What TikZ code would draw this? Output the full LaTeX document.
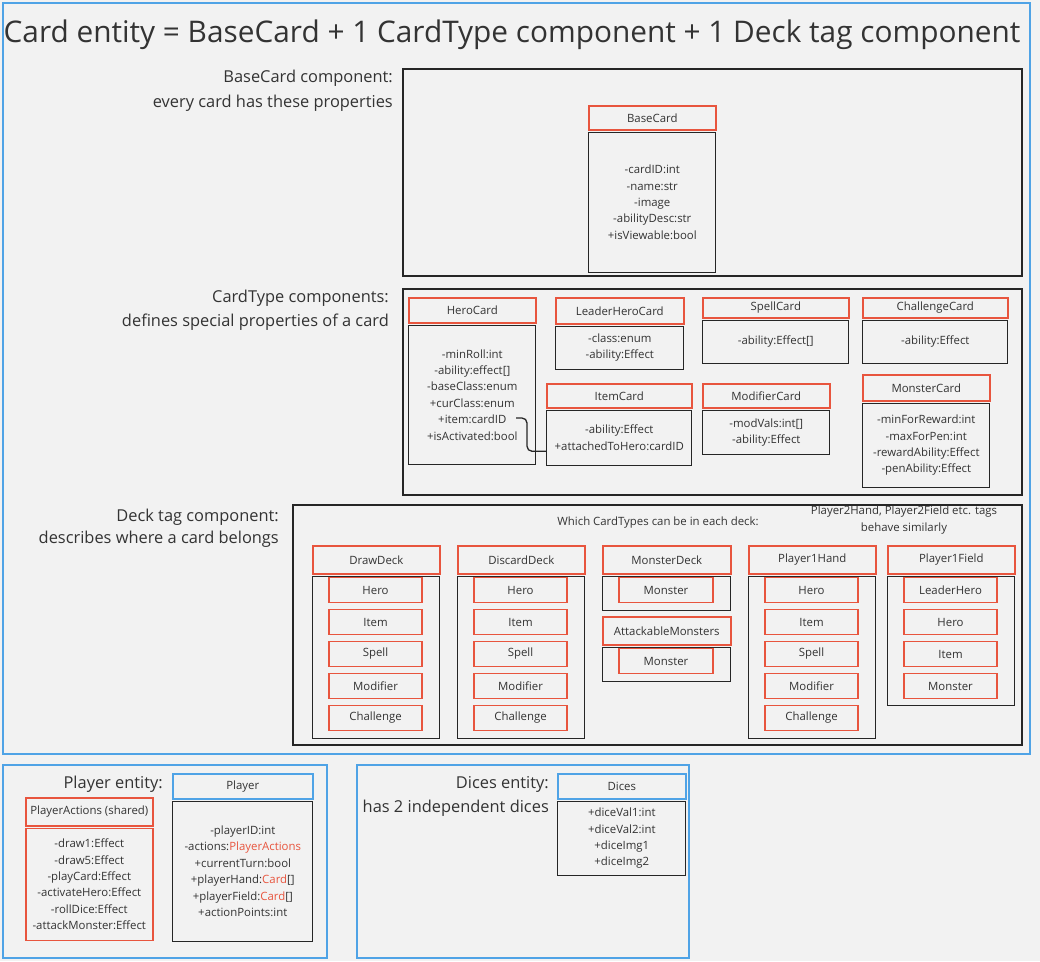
\documentclass[tikz,border=0pt]{standalone}
\usepackage{fontspec}
\setmainfont{Open Sans}
\usetikzlibrary{positioning}
\definecolor{cardred}{HTML}{E8553E}
\definecolor{entblue}{HTML}{4FA3E6}
\definecolor{bggray}{HTML}{F2F2F2}
\definecolor{txt}{HTML}{333333}

\tikzset{
  box/.style 2 args={minimum width=#1pt, minimum height=#2pt, inner sep=0pt},
  hdr/.style={draw=cardred, line width=1.6pt, text=txt, font=\fontsize{11.4}{12}\selectfont},
  bluehdr/.style={hdr, draw=entblue},
  bdy/.style={draw=black!85, line width=1.3pt, align=center, text=txt, font=\fontsize{11.4}{16.4}\selectfont},
  slot/.style={draw=cardred, line width=1.6pt, box={93}{25}, text=txt, font=\fontsize{11.4}{12}\selectfont},
  ent/.style={draw=entblue, line width=1.3pt},
  sect/.style={draw=black!85, line width=1.3pt},
  lbl/.style={anchor=east, align=right, inner sep=0pt, text=txt},
  note/.style={align=center, inner sep=0pt, text=txt, font=\fontsize{11.4}{17}\selectfont},
}

\begin{document}
\begin{tikzpicture}[x=1pt, y=-1pt]
  \fill[bggray] (0,0) rectangle (1040,961);
  \useasboundingbox (0,0) rectangle (1040,961);

  % card entity
  \draw[ent] (3,3) rectangle (1030,754);
  \node[text=txt, inner sep=0pt, font=\fontsize{29.8}{32}\selectfont] (title) at (512,35)
    {Card entity = BaseCard + 1 CardType component + 1 Deck tag component};

  \draw[sect] (403,69) rectangle (1022,276);
  \node[lbl, font=\fontsize{16.4}{25}\selectfont] (baselbl) at (393,91)
    {BaseCard component:\\every card has these properties};
  \node[hdr, box={127}{24}, anchor=north west] (basehdr) at (588,105) {BaseCard};
  \node[bdy, box={127}{140}, below=1pt of basehdr] (basebody)
    {-cardID:int\\-name:str\\-image\\-abilityDesc:str\\+isViewable:bool};

  \draw[sect] (403,289) rectangle (1022,495);
  \node[lbl, font=\fontsize{16.4}{24}\selectfont] (typelbl) at (389,310)
    {CardType components:\\defines special properties of a card};
  \node[hdr, box={127}{25}, anchor=north west] (herohdr) at (408,297) {HeroCard};
  \node[bdy, box={127}{139}, below=1pt of herohdr] (herobody)
    {-minRoll:int\\-ability:effect[]\\-baseClass:enum\\+curClass:enum\\+item:cardID\\+isActivated:bool};
  \node[hdr, box={128}{26}, anchor=north west] (leaderhdr) at (555,297) {LeaderHeroCard};
  \node[bdy, box={128}{43}, below=1pt of leaderhdr] (leaderbody)
    {-class:enum\\-ability:Effect};
  \node[hdr, box={146}{20}, anchor=north west] (spellhdr) at (702,297) {SpellCard};
  \node[bdy, box={146}{43}, below=1pt of spellhdr] (spellbody) {-ability:Effect[]};
  \node[hdr, box={145}{20}, anchor=north west] (chalhdr) at (862,297) {ChallengeCard};
  \node[bdy, box={145}{43}, below=1pt of chalhdr] (chalbody) {-ability:Effect};
  \node[hdr, box={145}{24}, anchor=north west] (itemhdr) at (546,383) {ItemCard};
  \node[bdy, box={145}{55}, below=1pt of itemhdr] (itembody)
    {-ability:Effect\\+attachedToHero:cardID};
  \node[hdr, box={127}{24}, anchor=north west] (modhdr) at (702,383) {ModifierCard};
  \node[bdy, box={127}{44}, below=1pt of modhdr] (modbody)
    {-modVals:int[]\\-ability:Effect};
  \node[hdr, box={127}{26}, anchor=north west] (monhdr) at (862,374) {MonsterCard};
  \node[bdy, box={127}{84}, below=1pt of monhdr] (monbody)
    {-minForReward:int\\-maxForPen:int\\-rewardAbility:Effect\\-penAbility:Effect};
  \coordinate (itemref) at (516,418);
  \draw[black!85, line width=1.3pt, rounded corners=5pt] (itemref) -- ++(11,0)
    |- ([yshift=-13.5pt]itembody.west);

  \draw[sect] (293,505) rectangle (1022,745);
  \node[lbl, font=\fontsize{16.4}{22}\selectfont] (decklbl) at (279,528)
    {Deck tag component:\\describes where a card belongs};
  \node[note] (which) at (658,523) {Which CardTypes can be in each deck:};
  \node[note] (others) at (904,520) {Player2Hand, Player2Field etc. tags\\behave similarly};

  \node[hdr, box={127}{28}, anchor=north west] (drawhdr) at (312,545) {DrawDeck};
  \node[bdy, box={127}{162}, below=1pt of drawhdr] (drawbody) {};
  \foreach \s [count=\i] in {Hero,Item,Spell,Modifier,Challenge}
    \node[slot] (draw\i) at (375.5,558+32*\i) {\s};
  \node[hdr, box={127}{28}, anchor=north west] (discardhdr) at (457,545) {DiscardDeck};
  \node[bdy, box={127}{162}, below=1pt of discardhdr] (discardbody) {};
  \foreach \s [count=\i] in {Hero,Item,Spell,Modifier,Challenge}
    \node[slot] (discard\i) at (520.5,558+32*\i) {\s};
  \node[hdr, box={128}{28}, anchor=north west] (mdeckhdr) at (602,545) {MonsterDeck};
  \node[bdy, box={128}{34}, below=1pt of mdeckhdr] (mdeckbody) {};
  \node[slot, box={94}{25}] (mdeck1) at (666,590) {Monster};
  \node[hdr, box={128}{28}, anchor=north west] (attackhdr) at (602,616) {AttackableMonsters};
  \node[bdy, box={128}{34}, below=1pt of attackhdr] (attackbody) {};
  \node[slot, box={94}{25}] (attack1) at (666,661) {Monster};
  \node[hdr, box={127}{28}, anchor=north west] (handhdr) at (748,545) {Player1Hand};
  \node[bdy, box={127}{162}, below=1pt of handhdr] (handbody) {};
  \foreach \s [count=\i] in {Hero,Item,Spell,Modifier,Challenge}
    \node[slot] (hand\i) at (811.5,558+32*\i) {\s};
  \node[hdr, box={127}{28}, anchor=north west] (fieldhdr) at (887,545) {Player1Field};
  \node[bdy, box={127}{129}, below=1pt of fieldhdr] (fieldbody) {};
  \foreach \s [count=\i] in {LeaderHero,Hero,Item,Monster}
    \node[slot] (field\i) at (950.5,558+32*\i) {\s};

  % player entity
  \draw[ent] (3,765) rectangle (327,958);
  \node[lbl, font=\fontsize{16.4}{24}\selectfont] (playerlbl) at (163,784) {Player entity:};
  \node[hdr, box={127}{28}, anchor=north west] (actionshdr) at (25,797) {PlayerActions (shared)};
  \node[bdy, draw=cardred, line width=1.6pt, box={127}{112}, below=1pt of actionshdr] (actionsbody)
    {-draw1:Effect\\-draw5:Effect\\-playCard:Effect\\-activateHero:Effect\\-rollDice:Effect\\-attackMonster:Effect};
  \node[bluehdr, box={140}{25}, anchor=north west] (playerhdr) at (172,773) {Player};
  \node[bdy, box={140}{140}, below=1pt of playerhdr] (playerbody)
    {-playerID:int\\-actions:\textcolor{cardred}{PlayerActions}\\+currentTurn:bool\\
     +playerHand:\textcolor{cardred}{Card}[]\\+playerField:\textcolor{cardred}{Card}[]\\+actionPoints:int};

  % dices entity
  \draw[ent] (357,765) rectangle (689,958);
  \node[lbl, font=\fontsize{16.4}{24}\selectfont] (diceslbl) at (549,796)
    {Dices entity:\\has 2 independent dices};
  \node[bluehdr, box={128}{25}, anchor=north west] (diceshdr) at (557,773) {Dices};
  \node[bdy, box={128}{74}, below=1pt of diceshdr] (dicesbody)
    {+diceVal1:int\\+diceVal2:int\\+diceImg1\\+diceImg2};
\end{tikzpicture}
\end{document}
